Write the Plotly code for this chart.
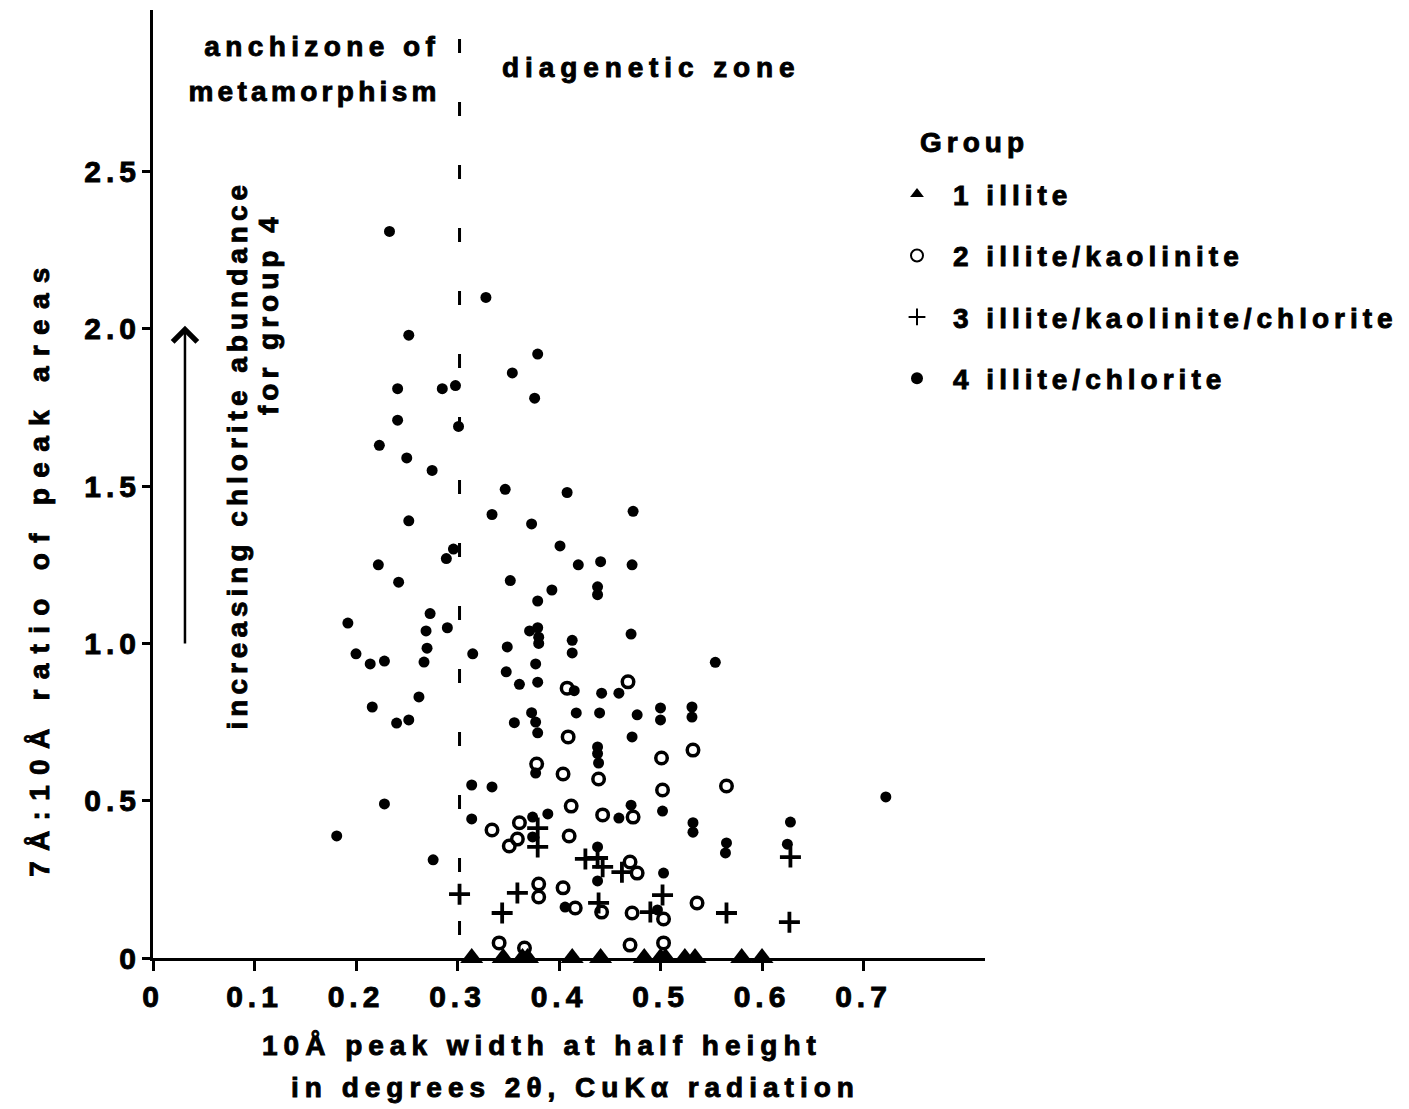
import plotly.graph_objects as go

# ---------------- data ----------------
# Group 1: illite (triangles on the axis)
g1_x = [0.314, 0.345, 0.364, 0.369, 0.413, 0.441, 0.484, 0.500, 0.505, 0.524, 0.534, 0.580, 0.600]
g1_y = [0, 0, 0, 0, 0, 0, 0, 0, 0, 0, 0, 0, 0]

# Group 2: illite/kaolinite (open circles)
g2_x = [0.408, 0.468, 0.409, 0.501, 0.532, 0.378, 0.404, 0.439, 0.502, 0.412,
        0.473, 0.334, 0.361, 0.359, 0.351, 0.410, 0.443, 0.470, 0.477, 0.380,
        0.380, 0.404, 0.416, 0.442, 0.472, 0.503, 0.341, 0.366, 0.470, 0.503,
        0.536, 0.565]
g2_y = [0.858, 0.878, 0.703, 0.636, 0.661, 0.617, 0.585, 0.569, 0.534, 0.483,
        0.448, 0.407, 0.430, 0.378, 0.356, 0.388, 0.455, 0.305, 0.270, 0.235,
        0.194, 0.223, 0.159, 0.146, 0.143, 0.124, 0.048, 0.032, 0.041, 0.048,
        0.175, 0.547]

# Group 3: illite/kaolinite/chlorite (plus signs)
g3_x = [0.379, 0.379, 0.426, 0.438, 0.443, 0.462, 0.302, 0.359, 0.344, 0.439,
        0.502, 0.490, 0.628, 0.565, 0.627]
g3_y = [0.413, 0.353, 0.315, 0.318, 0.290, 0.273, 0.203, 0.207, 0.143, 0.175,
        0.200, 0.146, 0.321, 0.143, 0.114]

# Group 4: illite/chlorite (filled dots)
g4_x = [0.233, 0.328, 0.252, 0.379, 0.354, 0.241, 0.285, 0.298, 0.376, 0.241,
        0.301, 0.223, 0.250, 0.275, 0.347, 0.408, 0.473, 0.334, 0.252, 0.373,
        0.296, 0.289, 0.401, 0.419, 0.441, 0.472, 0.222, 0.438, 0.438, 0.242,
        0.352, 0.393, 0.379, 0.192, 0.273, 0.269, 0.290, 0.270, 0.200, 0.214,
        0.228, 0.267, 0.315, 0.349, 0.471, 0.371, 0.379, 0.380, 0.380, 0.413,
        0.413, 0.377, 0.348, 0.361, 0.379, 0.415, 0.442, 0.459, 0.373, 0.377,
        0.379, 0.356, 0.417, 0.440, 0.477, 0.500, 0.500, 0.531, 0.531, 0.472,
        0.438, 0.438, 0.439, 0.377, 0.314, 0.334, 0.471, 0.502, 0.532, 0.532,
        0.314, 0.374, 0.389, 0.374, 0.459, 0.438, 0.438, 0.503, 0.406, 0.497,
        0.554, 0.722, 0.628, 0.565, 0.564, 0.625, 0.216, 0.240, 0.252, 0.262,
        0.228, 0.181, 0.276]
g4_y = [2.310, 2.100, 1.980, 1.920, 1.860, 1.810, 1.810, 1.820, 1.780, 1.710,
        1.690, 1.630, 1.590, 1.550, 1.490, 1.480, 1.420, 1.410, 1.390, 1.380,
        1.300, 1.270, 1.310, 1.250, 1.260, 1.250, 1.250, 1.180, 1.155, 1.195,
        1.200, 1.170, 1.135, 1.065, 1.095, 1.040, 1.050, 0.985, 0.967, 0.935,
        0.944, 0.941, 0.967, 0.989, 1.030, 1.040, 1.050, 1.020, 1.000, 1.010,
        0.970, 0.935, 0.910, 0.870, 0.877, 0.850, 0.842, 0.842, 0.780, 0.750,
        0.716, 0.748, 0.779, 0.779, 0.773, 0.795, 0.757, 0.798, 0.766, 0.703,
        0.671, 0.650, 0.620, 0.588, 0.550, 0.544, 0.486, 0.467, 0.430, 0.400,
        0.442, 0.448, 0.458, 0.385, 0.445, 0.353, 0.245, 0.270, 0.162, 0.153,
        0.940, 0.512, 0.432, 0.366, 0.334, 0.362, 0.798, 0.747, 0.757, 0.830,
        0.490, 0.388, 0.312]

group_names = ["1 illite", "2 illite/kaolinite",
               "3 illite/kaolinite/chlorite", "4 illite/chlorite"]
x_ticks = [0, 0.1, 0.2, 0.3, 0.4, 0.5, 0.6, 0.7]
x_tick_labels = ["0", "0.1", "0.2", "0.3", "0.4", "0.5", "0.6", "0.7"]
y_ticks = [0, 0.5, 1.0, 1.5, 2.0, 2.5]
y_tick_labels = ["0", "0.5", "1.0", "1.5", "2.0", "2.5"]

boundary_x = 0.302          # anchizone / diagenetic zone boundary
arrow_from, arrow_to = 0.995, 2.01


def b(s):
    return "<b>" + s + "</b>"


# ---------------- figure ----------------
FONT = "Liberation Sans, Arial, Helvetica, sans-serif"
BLACK = "#000000"

fig = go.Figure()
fig.add_trace(go.Scatter(
    x=g1_x, y=g1_y, mode="markers", name=b(group_names[0]), legendgroup="g1",
    marker=dict(symbol="triangle-up", size=20, color=BLACK), cliponaxis=False))
fig.add_trace(go.Scatter(
    x=g2_x, y=g2_y, mode="markers", name=b(group_names[1]), legendgroup="g2",
    marker=dict(symbol="circle-open", size=11.5, color=BLACK, line=dict(width=3.5, color=BLACK)),
    cliponaxis=False))
fig.add_trace(go.Scatter(
    x=g3_x, y=g3_y, mode="markers", name=b(group_names[2]), legendgroup="g3",
    marker=dict(symbol="cross-thin", size=15, color=BLACK, line=dict(width=3.8, color=BLACK)),
    cliponaxis=False))
fig.add_trace(go.Scatter(
    x=g4_x, y=g4_y, mode="markers", name=b(group_names[3]), legendgroup="g4",
    marker=dict(symbol="circle", size=11, color=BLACK), cliponaxis=False))

# dashed zone boundary
fig.add_shape(type="line", xref="x", yref="y", x0=boundary_x, x1=boundary_x,
              y0=0.073, y1=3.014, line=dict(color=BLACK, width=3, dash="14px,49px"))

tf = dict(family=FONT, size=28, color=BLACK, weight=700)

# zone labels
fig.add_annotation(x=0.2857, y=2.897, xref="x", yref="y", text=b("anchizone of"),
                   showarrow=False, xanchor="right", yanchor="middle", align="right", font=tf)
fig.add_annotation(x=0.2857, y=2.754, xref="x", yref="y", text=b("metamorphism"),
                   showarrow=False, xanchor="right", yanchor="middle", align="right", font=tf)
fig.add_annotation(x=0.3419, y=2.830, xref="x", yref="y", text=b("diagenetic zone"),
                   showarrow=False, xanchor="left", yanchor="middle", align="left", font=tf)

# arrow
fig.add_annotation(x=0.0315, y=arrow_to, ax=0.0315, ay=arrow_from, xref="x", yref="y",
                   axref="x", ayref="y", text="", showarrow=True, arrowhead=4,
                   arrowsize=1.9, arrowwidth=2.5, arrowcolor=BLACK, standoff=0)

# rotated arrow text
fig.add_annotation(x=0.0828, y=2.48, xref="x", yref="y",
                   text=b("increasing chlorite abundance"), textangle=-90,
                   showarrow=False, xanchor="center", yanchor="top", align="right", font=tf)
fig.add_annotation(x=0.1133, y=2.378, xref="x", yref="y",
                   text=b("for group 4"), textangle=-90,
                   showarrow=False, xanchor="center", yanchor="top", align="right", font=tf)

# axis titles
fig.add_annotation(x=-0.1358, y=0.4125, xref="paper", yref="paper",
                   text=b("7Å:10Å ratio of peak areas"), textangle=-90,
                   showarrow=False, xanchor="center", yanchor="middle", font=tf)
fig.add_annotation(x=(542 - 153) / 832, y=-(1045 - 958) / 948, xref="paper", yref="paper",
                   text=b("10Å peak width at half height"),
                   showarrow=False, xanchor="center", yanchor="middle", font=tf)
fig.add_annotation(x=(575 - 153) / 832, y=-(1087 - 958) / 948, xref="paper", yref="paper",
                   text=b("in degrees 2θ, CuKα radiation"),
                   showarrow=False, xanchor="center", yanchor="middle", font=tf)

# the page body has an 8px margin: figure is 8px smaller so the plot area lands on the reference
fig.update_layout(
    width=1401, height=1101,
    margin=dict(l=145, r=424, t=2, b=151, pad=0),
    paper_bgcolor="white", plot_bgcolor="white",
    font=dict(family=FONT, color=BLACK, weight=700),
    showlegend=True,
    legend=dict(
        title=dict(text=b("Group"), font=dict(family=FONT, size=28, color=BLACK, weight=700)),
        font=dict(family=FONT, size=28, color=BLACK, weight=700),
        x=(897 - 153) / 832, y=(958 - 133) / 948, xanchor="left", yanchor="top",
        bgcolor="rgba(0,0,0,0)", borderwidth=0, tracegroupgap=22,
        itemsizing="constant", itemclick=False, itemdoubleclick=False,
    ),
    xaxis=dict(
        range=[0, 0.8197], tickvals=x_ticks, ticktext=[b(t) for t in x_tick_labels],
        showline=True, linewidth=3, linecolor=BLACK, ticks="outside", ticklen=10,
        tickwidth=3, tickcolor=BLACK, showgrid=False, zeroline=False, layer="below traces",
        tickfont=dict(family=FONT, size=30, color=BLACK, weight=700),
    ),
    yaxis=dict(
        range=[0, 3.014], tickvals=y_ticks, ticktext=[b(t) for t in y_tick_labels],
        showline=True, linewidth=3, linecolor=BLACK, ticks="outside", ticklen=8,
        tickwidth=3, tickcolor=BLACK, showgrid=False, zeroline=False, layer="below traces",
        ticklabelstandoff=-5,
        tickfont=dict(family=FONT, size=30, color=BLACK, weight=700),
    ),
)

post = """
var gd = document.getElementById('{plot_id}');
function sp(sel, v){ gd.querySelectorAll(sel).forEach(function(t){ t.style.letterSpacing = v; }); }
sp('.xtick text', '5px');
sp('.ytick text', '5px');
sp('.legendtext', '5px');
sp('.legendtitletext', '5px');
var spacing = {'ratio': '10.3px', 'increasing': '5px', 'for group': '5px', 'metamorphism': '4.3px',
               'anchizone': '5.4px', 'diagenetic': '5.9px', 'peak width': '6px', 'degrees': '6px'};
gd.querySelectorAll('.annotation-text').forEach(function(t){
  var s = t.textContent, v = '5px';
  Object.keys(spacing).forEach(function(k){ if (s.indexOf(k) >= 0) v = spacing[k]; });
  t.style.letterSpacing = v;
});
gd.querySelectorAll('.main-svg text').forEach(function(t){
  t.style.stroke = '#000'; t.style.strokeWidth = '0.9px';
});
gd.querySelectorAll('.legend [clip-path]').forEach(function(e){ e.removeAttribute('clip-path'); });
gd.querySelectorAll('.legendtext').forEach(function(t){ t.setAttribute('transform', 'translate(16,0)'); });
var lt = gd.querySelector('.legendtitletext');
if (lt) { lt.setAttribute('transform', 'translate(21,-17)'); }
"""

fig.write_html("out.html", post_script=post)
